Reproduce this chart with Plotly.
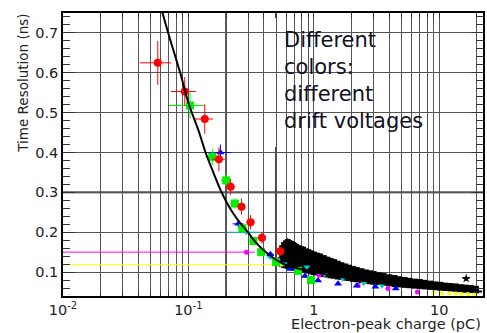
import plotly.graph_objects as go

# ---------------- data ----------------
curve_q = [0.0622, 0.069, 0.086, 0.100, 0.122, 0.137, 0.158, 0.184, 0.21, 0.242, 0.298, 0.35, 0.415,
           0.50, 0.59, 0.75, 1.0, 1.5, 2.0, 3.0, 5.0, 10.0, 20.0, 22.0]
curve_t = [0.75, 0.70, 0.60, 0.525, 0.45, 0.40, 0.35, 0.30, 0.265, 0.235, 0.20, 0.172, 0.15,
           0.131, 0.1185, 0.109, 0.100, 0.090, 0.083, 0.075, 0.066, 0.058, 0.052, 0.051]

red_q = [0.057, 0.0935, 0.135, 0.175, 0.217, 0.265, 0.313, 0.386, 0.54]
red_t = [0.625, 0.553, 0.484, 0.383, 0.314, 0.264, 0.225, 0.186, 0.152]
red_qerr = [0.016, 0.021, 0.022, 0.02, 0.02, 0.02, 0.025, 0.03, 0.04]
red_terr = [0.055, 0.036, 0.037, 0.03, 0.02, 0.02, 0.018, 0.015, 0.012]

green_q = [0.103, 0.155, 0.20, 0.235, 0.27, 0.33, 0.38, 0.50, 0.75, 0.95]
green_t = [0.518, 0.389, 0.33, 0.272, 0.21, 0.178, 0.150, 0.125, 0.103, 0.080]
green_qerr = [0.033, 0.018, 0.018, 0.02, 0.02, 0.025, 0.03, 0.03, 0.04, 0.05]
green_terr = [0.033, 0.02, 0.015, 0.012, 0.012, 0.01, 0.008, 0.006, 0.005, 0.004]

blue_q = [0.18, 0.25, 0.45, 0.52, 0.65, 0.85, 1.08, 1.56, 2.2, 3.1, 4.5]
blue_t = [0.40, 0.221, 0.145, 0.13, 0.108, 0.090, 0.079, 0.071, 0.066, 0.063, 0.059]
blue_qerr = [0.04, 0.025, 0.03, 0.03, 0.03, 0.04, 0.05, 0.06, 0.08, 0.1, 0.15]
blue_terr = [0.02, 0.01, 0.006, 0.005, 0.004, 0.004, 0.003, 0.003, 0.003, 0.003, 0.003]

cyan_q = [0.29, 0.45, 0.58, 0.88, 1.22, 1.7, 2.5, 3.5]
cyan_t = [0.200, 0.137, 0.120, 0.113, 0.094, 0.083, 0.072, 0.066]
cyan_qerr = [0.085, 0.03, 0.03, 0.04, 0.05, 0.06, 0.08, 0.1]

magenta_q = [0.29, 1.1, 2.25, 3.9, 6.7]
magenta_t = [0.150, 0.092, 0.067, 0.059, 0.050]
magenta_qerr_minus = [0.285, 0.05, 0.08, 0.1, 0.2]
magenta_qerr_plus = [0.05, 0.05, 0.08, 0.1, 0.2]

yellow_q = [0.55, 9.0, 10.5, 12.0, 13.5, 15.0, 17.0, 19.0]
yellow_t = [0.1185, 0.048, 0.047, 0.046, 0.046, 0.045, 0.045, 0.044]
yellow_qerr_minus = [0.545, 0.3, 0.3, 0.3, 0.4, 0.4, 0.5, 0.5]
yellow_qerr_plus = [0.05, 0.3, 0.3, 0.3, 0.4, 0.4, 0.5, 0.5]

black_q = [0.56, 0.58, 0.60, 0.62, 0.64, 0.66, 0.68, 0.70, 0.72, 0.75, 0.78, 0.82, 0.86, 0.90,
           0.95, 1.00, 1.06, 1.12, 1.20, 1.28, 1.36, 1.45, 1.55, 1.66, 1.78, 1.90, 2.05, 2.2,
           2.4, 2.6, 2.8, 3.0, 3.3, 3.6, 4.0, 4.4, 4.8, 5.3, 5.8, 6.4, 7.0, 7.7, 8.5, 9.3,
           10.2, 11.2, 12.3, 13.5, 14.8, 16.2, 17.8, 19.5]
black_hi = [0.160, 0.168, 0.172, 0.175, 0.172, 0.170, 0.168, 0.166, 0.163, 0.160, 0.158, 0.156, 0.152, 0.150,
            0.147, 0.144, 0.141, 0.139, 0.135, 0.131, 0.128, 0.125, 0.121, 0.117, 0.114, 0.111, 0.108, 0.105,
            0.102, 0.099, 0.097, 0.095, 0.092, 0.090, 0.087, 0.085, 0.082, 0.080, 0.078, 0.076, 0.075, 0.073,
            0.071, 0.069, 0.068, 0.066, 0.065, 0.064, 0.062, 0.061, 0.060, 0.058]
black_mh = [0.150, 0.156, 0.159, 0.161, 0.158, 0.156, 0.154, 0.152, 0.150, 0.147, 0.145, 0.143, 0.140, 0.138,
            0.135, 0.133, 0.130, 0.128, 0.125, 0.121, 0.119, 0.116, 0.113, 0.110, 0.107, 0.104, 0.101, 0.099,
            0.096, 0.094, 0.092, 0.090, 0.087, 0.085, 0.083, 0.081, 0.078, 0.077, 0.075, 0.073, 0.072, 0.070,
            0.069, 0.067, 0.066, 0.064, 0.063, 0.062, 0.061, 0.059, 0.058, 0.057]
black_mid = [0.140, 0.143, 0.145, 0.146, 0.143, 0.142, 0.140, 0.139, 0.137, 0.135, 0.133, 0.131, 0.128, 0.127,
             0.124, 0.122, 0.120, 0.118, 0.115, 0.112, 0.110, 0.108, 0.105, 0.102, 0.100, 0.098, 0.095, 0.093,
             0.091, 0.089, 0.087, 0.085, 0.083, 0.081, 0.079, 0.077, 0.075, 0.074, 0.072, 0.071, 0.070, 0.068,
             0.067, 0.066, 0.064, 0.063, 0.062, 0.061, 0.060, 0.058, 0.057, 0.056]
black_ml = [0.130, 0.131, 0.131, 0.131, 0.129, 0.128, 0.127, 0.126, 0.124, 0.123, 0.121, 0.119, 0.117, 0.116,
            0.113, 0.111, 0.110, 0.108, 0.105, 0.103, 0.101, 0.100, 0.097, 0.095, 0.093, 0.092, 0.089, 0.088,
            0.086, 0.084, 0.082, 0.081, 0.079, 0.077, 0.076, 0.074, 0.072, 0.071, 0.070, 0.069, 0.068, 0.066,
            0.065, 0.064, 0.063, 0.062, 0.061, 0.060, 0.059, 0.057, 0.056, 0.055]
black_lo = [0.120, 0.118, 0.117, 0.116, 0.115, 0.114, 0.113, 0.112, 0.111, 0.110, 0.108, 0.107, 0.105, 0.104,
            0.102, 0.100, 0.099, 0.097, 0.095, 0.094, 0.092, 0.091, 0.089, 0.088, 0.086, 0.085, 0.083, 0.082,
            0.080, 0.079, 0.077, 0.076, 0.075, 0.073, 0.072, 0.070, 0.069, 0.068, 0.067, 0.066, 0.065, 0.064,
            0.063, 0.062, 0.061, 0.060, 0.059, 0.058, 0.057, 0.056, 0.055, 0.054]
outlier_q = [16.4]
outlier_t = [0.084]

x_tickvals = [m * d for d in (0.01, 0.1, 1, 10) for m in range(1, 10)] + [20]
x_ticktext = {0.01: "10<sup>-2</sup>", 0.1: "10<sup>-1</sup>", 1: "1", 10: "10"}
y_tickvals = [0.1, 0.2, 0.3, 0.4, 0.5, 0.6, 0.7]
y_ticktext = ["0.1", "0.2", "0.3", "0.4", "0.5", "0.6", "0.7"]

thick_x = [0.2, 0.5]
thick_y = [0.3]

annotation_lines = ["Different", "colors:", "different", "drift voltages"]

FONT = "DejaVu Sans"

fig = go.Figure()


def pts(q, t, color, symbol, size, qerr=None, qerr_minus=None, terr=None, terr_const=None,
        qerr_pct=None, terr_pct=None):
    ex = None
    if qerr is not None:
        ex = dict(type="data", array=qerr, color=color, thickness=1, width=0)
    elif qerr_minus is not None:
        ex = dict(type="data", symmetric=False, array=qerr_minus[1], arrayminus=qerr_minus[0],
                  color=color, thickness=1, width=0)
    elif qerr_pct is not None:
        ex = dict(type="percent", value=qerr_pct, color=color, thickness=1, width=0)
    ey = None
    if terr is not None:
        ey = dict(type="data", array=terr, color=color, thickness=1, width=0)
    elif terr_const is not None:
        ey = dict(type="constant", value=terr_const, color=color, thickness=1, width=0)
    elif terr_pct is not None:
        ey = dict(type="percent", value=terr_pct, color=color, thickness=1, width=0)
    fig.add_trace(go.Scatter(x=q, y=t, mode="markers",
                             marker=dict(color=color, symbol=symbol, size=size, line=dict(width=0)),
                             error_x=ex, error_y=ey, showlegend=False, cliponaxis=True))


# black band
for arr in (black_hi, black_mh, black_mid, black_ml, black_lo):
    pts(black_q, arr, "black", "square", 6, qerr_pct=4, terr_pct=6)
pts(outlier_q, outlier_t, "black", "star", 7, qerr=[1.0], terr=[0.006])

pts(yellow_q, yellow_t, "#ffff00", "circle", 4, qerr_minus=(yellow_qerr_minus, yellow_qerr_plus), terr_const=0.002)
pts(magenta_q, magenta_t, "#ff00ff", "circle", 5, qerr_minus=(magenta_qerr_minus, magenta_qerr_plus), terr_const=0.003)
pts(cyan_q, cyan_t, "#00c8d8", "triangle-down", 6, qerr=cyan_qerr, terr_const=0.003)
pts(blue_q, blue_t, "#0000ff", "triangle-up", 7, qerr=blue_qerr, terr=blue_terr)
pts(green_q, green_t, "#00f000", "square", 8, qerr=green_qerr, terr=green_terr)
pts(red_q, red_t, "#ff0000", "circle", 8, qerr=red_qerr, terr=red_terr)

fig.add_trace(go.Scatter(x=curve_q, y=curve_t, mode="lines",
                         line=dict(color="black", width=2, shape="spline", smoothing=1.0),
                         showlegend=False))

shapes = []
for xv in thick_x:
    shapes.append(dict(type="line", xref="x", yref="paper", x0=xv, x1=xv, y0=0, y1=1,
                       line=dict(color="black", width=1.6), layer="between"))
for yv in thick_y:
    shapes.append(dict(type="line", xref="paper", yref="y", x0=0, x1=1, y0=yv, y1=yv,
                       line=dict(color="black", width=1.6), layer="between"))
# white box behind the text
shapes.append(dict(type="rect", xref="paper", yref="paper", x0=0.483, x1=0.924, y0=0.5265, y1=0.982,
                   fillcolor="white", line=dict(width=0), layer="between"))

annotations = []
for i, line in enumerate(annotation_lines):
    annotations.append(dict(text=line, xref="paper", yref="paper", x=0.5213, y=0.905 - i * 0.0954,
                            xanchor="left", yanchor="middle", showarrow=False,
                            font=dict(family=FONT, size=21, color="#111122")))
annotations.append(dict(text="Electron-peak charge (pC)", xref="paper", yref="paper", x=1.0, y=-0.1,
                        xanchor="right", yanchor="middle", showarrow=False,
                        font=dict(family=FONT, size=14.5, color="#222")))
annotations.append(dict(text="Time Resolution (ns)", xref="paper", yref="paper", x=-0.095, y=1.003,
                        xanchor="center", yanchor="top", textangle=-90, showarrow=False,
                        font=dict(family=FONT, size=13.5, color="#222")))

fig.update_layout(
    width=487, height=333,
    margin=dict(l=63, r=2, t=13, b=37),
    paper_bgcolor="white", plot_bgcolor="white",
    shapes=shapes, annotations=annotations,
    font=dict(family=FONT, size=14.5, color="#222"),
    xaxis=dict(type="log", range=[-2, 1.349],
               tickmode="array", tickvals=x_tickvals,
               ticktext=[x_ticktext.get(v, "") for v in x_tickvals],
               ticks="inside", ticklen=5, tickcolor="#333", tickwidth=1,
               showgrid=True, gridcolor="#555", gridwidth=1,
               showline=True, linecolor="black", linewidth=1.5, mirror="ticks",
               zeroline=False, tickfont=dict(family=FONT, size=14.5, color="#222")),
    yaxis=dict(range=[0.04, 0.75],
               tickmode="array", tickvals=y_tickvals, ticktext=y_ticktext,
               ticks="inside", ticklen=12, tickcolor="#333", tickwidth=1,
               minor=dict(tickmode="linear", tick0=0, dtick=0.02, ticks="inside", ticklen=7,
                          tickcolor="#333", showgrid=False),
               showgrid=True, gridcolor="#555", gridwidth=1,
               showline=True, linecolor="black", linewidth=1.5, mirror="ticks",
               zeroline=False, tickfont=dict(family=FONT, size=14.5, color="#222")),
)

fig.write_html("out.html")
